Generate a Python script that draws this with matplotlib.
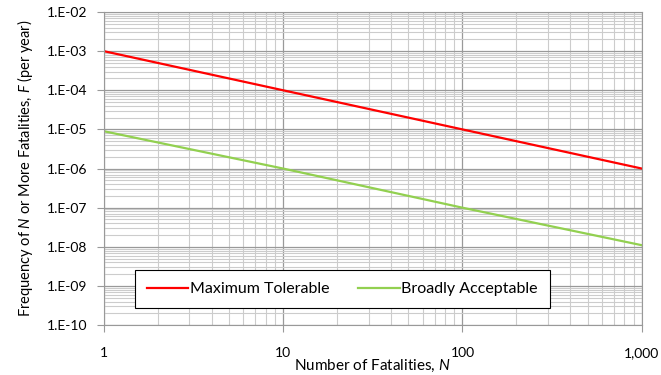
import math
import matplotlib.pyplot as plt
from matplotlib.ticker import FixedLocator, FuncFormatter, LogLocator, NullFormatter

plt.rcParams['font.family'] = ['Lato', 'DejaVu Sans']
plt.rcParams['mathtext.fontset'] = 'custom'
plt.rcParams['mathtext.it'] = 'Lato:italic'
plt.rcParams['mathtext.rm'] = 'Lato'

fatalities = [1, 10, 100, 1000]
max_tolerable = [1e-3, 1e-4, 1e-5, 1e-6]
broadly_acceptable = [9e-6, 1e-6, 1e-7, 1.1e-8]

x_ticks = [1, 10, 100, 1000]
x_labels = ['1', '10', '100', '1,000']
y_ticks = [10.0 ** e for e in range(-10, -1)]

fig = plt.figure(figsize=(6.61, 3.75), dpi=100)
ax = fig.add_axes([0.157, 0.133, 0.814, 0.835])

ax.plot(fatalities, max_tolerable, color='#FF0000', lw=1.6, label='Maximum Tolerable')
ax.plot(fatalities, broadly_acceptable, color='#92D050', lw=1.6, label='Broadly Acceptable')

ax.set_xscale('log')
ax.set_yscale('log')
ax.set_xlim(1, 1000)
ax.set_ylim(1e-10, 1e-2)

ax.xaxis.set_major_locator(FixedLocator(x_ticks))
ax.set_xticklabels(x_labels)
ax.xaxis.set_minor_locator(LogLocator(base=10, subs=range(2, 10)))
ax.xaxis.set_minor_formatter(NullFormatter())
ax.yaxis.set_major_locator(FixedLocator(y_ticks))
ax.yaxis.set_major_formatter(FuncFormatter(lambda v, p: '1.E%03d' % round(math.log10(v))))
ax.yaxis.set_minor_locator(LogLocator(base=10, subs=range(2, 10), numticks=20))
ax.yaxis.set_minor_formatter(NullFormatter())

ax.grid(which='major', color='#999999', lw=0.9)
ax.grid(which='minor', color='#cccccc', lw=0.8)
ax.set_axisbelow(True)
for s in ax.spines.values():
    s.set_color('#999999')
ax.tick_params(which='major', length=5, color='#999999', labelsize=10)
ax.tick_params(axis='x', which='major', pad=11)
ax.tick_params(axis='y', which='major', pad=7)
ax.tick_params(which='minor', length=0)

# x label placed by hand so it sits in the bottom strip like the reference
fig.text(0.563, 0.024, r'Number of Fatalities, $\it{N}$', fontsize=11, ha='center', va='center')
ax.set_ylabel(r'Frequency of $\it{N}$ or More Fatalities, $\it{F}$ (per year)', fontsize=10.5, labelpad=8)

leg = ax.legend(loc='center', bbox_to_anchor=(0.443, 0.115), ncol=2, fontsize=11.5,
                frameon=True, fancybox=False, handlelength=2.6, handletextpad=0.1,
                columnspacing=1.8, borderpad=0.75)
leg.get_frame().set_edgecolor('black')
leg.get_frame().set_linewidth(0.8)
leg.get_frame().set_alpha(1)

fig.savefig('out.png', dpi=100)
